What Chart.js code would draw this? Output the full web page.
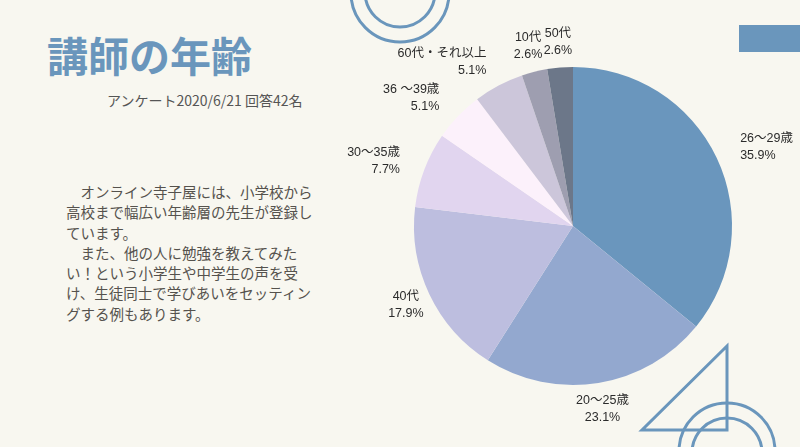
<!DOCTYPE html>
<html><head><meta charset="utf-8">
<script src="https://cdn.jsdelivr.net/npm/chart.js@4/dist/chart.umd.min.js"></script>
<style>
html,body{margin:0;padding:0;}
body{width:800px;height:447px;background:#f8f7f0;position:relative;overflow:hidden;font-family:"Noto Sans CJK JP","Noto Sans",sans-serif;}
#c{position:absolute;left:0;top:0;}
#title{position:absolute;left:47px;top:30px;font-size:41px;font-weight:bold;color:#6a96bc;line-height:1.2;letter-spacing:0px;white-space:nowrap;}
#sub{position:absolute;left:107px;top:92px;font-size:14px;color:#555;white-space:nowrap;line-height:1.2;}
#para{position:absolute;left:66px;top:182px;font-size:14.5px;color:#55524d;line-height:20.3px;white-space:pre;}
svg{position:absolute;left:0;top:0;}
</style></head>
<body>
<svg width="800" height="447">
  <circle cx="400" cy="-7" r="49" fill="none" stroke="#6a96bc" stroke-width="3"/>
  <circle cx="400" cy="-8" r="35" fill="none" stroke="#6a96bc" stroke-width="3"/>
  <rect x="739" y="25" width="61" height="27" fill="#6a96bc"/>
  <polygon points="727,346 642,430 727,430" fill="none" stroke="#6a96bc" stroke-width="3"/>
  <circle cx="727" cy="451" r="48" fill="none" stroke="#6a96bc" stroke-width="3"/>
  <circle cx="727" cy="453" r="35" fill="none" stroke="#6a96bc" stroke-width="3"/>
</svg>
<div id="title">講師の年齢</div>
<div id="sub">アンケート2020/6/21 回答42名</div>
<div id="para">　オンライン寺子屋には、小学校から
高校まで幅広い年齢層の先生が登録し
ています。
　また、他の人に勉強を教えてみた
い！という小学生や中学生の声を受
け、生徒同士で学びあいをセッティン
グする例もあります。</div>
<canvas id="c" width="800" height="447"></canvas>
<script>
const categories = ["26〜29歳","20〜25歳","40代","30〜35歳","36 〜39歳","60代・それ以上","10代","50代"];
const values = [35.9, 23.1, 17.9, 7.7, 5.1, 5.1, 2.6, 2.6];
const colors = ["#6a96bd","#93a8cf","#bdbedf","#e1d5ef","#fcf1fb","#ccc6da","#9e9eb0","#6c7789"];

const outsideLabels = {
  id: 'outsideLabels',
  afterDatasetsDraw(chart) {
    const ctx = chart.ctx;
    const meta = chart.getDatasetMeta(0);
    ctx.save();
    ctx.font = '12.5px "Liberation Sans", "Noto Sans CJK JP", sans-serif';
    ctx.fillStyle = '#2b2b2b';
    ctx.textBaseline = 'middle';
    meta.data.forEach((arc, i) => {
      const p = arc.getProps(['x','y','startAngle','endAngle','outerRadius'], true);
      const mid = (p.startAngle + p.endAngle) / 2;
      const r = p.outerRadius + 26;
      const cx = p.x + Math.cos(mid) * r;
      const cy = p.y + Math.sin(mid) * r;
      const c = Math.cos(mid), s = Math.sin(mid);
      let align = 'center';
      if (s < -0.3 && Math.abs(c) > 0.3) align = c > 0 ? 'left' : 'right';
      ctx.textAlign = align;
      ctx.fillText(categories[i], cx, cy - 8.5);
      ctx.fillText(values[i].toFixed(1) + '%', cx, cy + 8.5);
    });
    ctx.restore();
  }
};

new Chart(document.getElementById('c'), {
  type: 'pie',
  data: { labels: categories, datasets: [{ data: values, backgroundColor: colors, borderWidth: 0 }] },
  options: {
    responsive: false,
    animation: false,
    layout: { padding: { left: 414, right: 68, top: 67, bottom: 62 } },
    plugins: { legend: { display: false }, tooltip: { enabled: false } }
  },
  plugins: [outsideLabels]
});
</script>
</body></html>
